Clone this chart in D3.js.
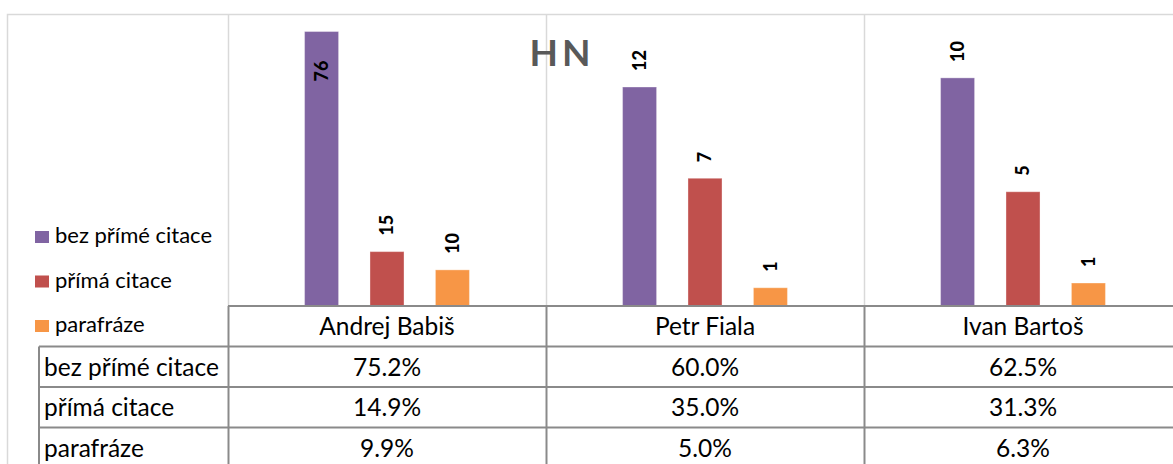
<!DOCTYPE html>
<html>
<head>
<meta charset="utf-8">
<script src="https://cdn.jsdelivr.net/npm/d3@7"></script>
<style>
  body { margin: 0; background: #fff; }
  svg { display: block; font-family: Lato, "Open Sans", sans-serif; }
</style>
</head>
<body>
<svg width="1173" height="464"></svg>
<script>
// data (shares in %, labels are counts)
const categories = ["Andrej Babiš", "Petr Fiala", "Ivan Bartoš"];
const series = ["bez přímé citace", "přímá citace", "parafráze"];
const bezPrimeCitace = [75.2, 60.0, 62.5];
const primaCitace = [14.9, 35.0, 31.3];
const parafraze = [9.9, 5.0, 6.3];
const countsBez = [76, 12, 10];
const countsPrima = [15, 7, 5];
const countsParafraze = [10, 1, 1];
const colors = ["#8064a2", "#c0504d", "#f79646"];

const shares = [bezPrimeCitace, primaCitace, parafraze];
const counts = [countsBez, countsPrima, countsParafraze];

var svg = d3.select("svg");
var W = 1173, H = 464;
var plotTop = 14, baseY = 306, plotLeft = 228, plotRight = 1182;
var rowH = 40.5, tableLeft = 39;
var lineGray = "#8a8a8a", gridGray = "#d9d9d9";

var x0 = d3.scaleBand().domain(categories).range([plotLeft, plotRight]);
var x1 = d3.scaleBand().domain(series).range([0, x0.bandwidth()])
    .paddingInner(0.48).paddingOuter(1.17);
var y = d3.scaleLinear().domain([0, 80]).range([baseY, plotTop]);

var bars = [];
series.forEach((s, si) => {
    categories.forEach((c, ci) => {
        bars.push({ s: s, si: si, c: c, v: shares[si][ci], n: counts[si][ci] });
    });
});

// chart area border (cut off on the right and bottom)
svg.append("path")
    .attr("d", `M7.5,${H} V${plotTop + 0.5} H${W}`)
    .attr("fill", "none")
    .attr("stroke", gridGray)
    .attr("stroke-width", 1.5);

// vertical grid lines in the plot area
var edges = categories.map(c => x0(c)).concat([plotRight]);
svg.selectAll("line.grid")
    .data(edges)
    .enter()
    .append("line")
    .attr("class", "grid")
    .attr("x1", d => d + 0.5).attr("x2", d => d + 0.5)
    .attr("y1", plotTop).attr("y2", baseY)
    .attr("stroke", gridGray)
    .attr("stroke-width", 1.5);

// title
svg.append("text")
    .attr("x", 562)
    .attr("y", 66)
    .attr("text-anchor", "middle")
    .attr("font-size", 37)
    .attr("font-weight", "bold")
    .attr("letter-spacing", 4)
    .attr("fill", "#595959")
    .text("HN");

// bars
svg.selectAll("rect.bar")
    .data(bars)
    .enter()
    .append("rect")
    .attr("class", "bar")
    .attr("x", d => x0(d.c) + x1(d.s))
    .attr("y", d => y(d.v))
    .attr("width", x1.bandwidth())
    .attr("height", d => baseY - y(d.v))
    .attr("fill", d => colors[d.si])
    .attr("stroke", "#fff")
    .attr("stroke-opacity", 0.35)
    .attr("stroke-width", 1);

// value labels, rotated
svg.selectAll("text.lbl")
    .data(bars)
    .enter()
    .append("text")
    .attr("class", "lbl")
    .attr("transform", function(d) {
        var cx = x0(d.c) + x1(d.s) + x1.bandwidth() / 2;
        var ly = y(d.v) - 16;
        if (ly - 22 < plotTop) ly = y(d.v) + 50;   // no room above: put it inside
        return `translate(${cx},${ly}) rotate(-90)`;
    })
    .attr("dy", "0.36em")
    .attr("font-size", 18)
    .attr("font-weight", 900)
    .attr("fill", "#000")
    .text(d => d.n);

// legend
var ly = d3.scalePoint().domain(series).range([237, 326]);
var leg = svg.selectAll("g.leg")
    .data(series)
    .enter()
    .append("g")
    .attr("class", "leg")
    .attr("transform", d => `translate(35,${ly(d)})`);
leg.append("rect")
    .attr("x", 0).attr("y", -6)
    .attr("width", 14).attr("height", 12)
    .attr("fill", (d, i) => colors[i]);
leg.append("text")
    .attr("x", 20).attr("y", 6)
    .attr("font-size", 22)
    .attr("fill", "#000")
    .text(d => d);

// data table
var rows = ["head"].concat(series);
var yr = d3.scaleBand().domain(rows).range([baseY, baseY + rows.length * rowH]);
var tcol = "#000", tsize = 24.5;

// horizontal lines
svg.append("line")
    .attr("x1", plotLeft).attr("x2", plotRight)
    .attr("y1", baseY).attr("y2", baseY)
    .attr("stroke", lineGray).attr("stroke-width", 2);
svg.selectAll("line.hrow")
    .data(series.concat(["end"]))
    .enter()
    .append("line")
    .attr("class", "hrow")
    .attr("x1", tableLeft).attr("x2", plotRight)
    .attr("y1", (d, i) => baseY + (i + 1) * rowH)
    .attr("y2", (d, i) => baseY + (i + 1) * rowH)
    .attr("stroke", lineGray).attr("stroke-width", 2);
// vertical lines
svg.selectAll("line.vcol")
    .data(edges)
    .enter()
    .append("line")
    .attr("class", "vcol")
    .attr("x1", d => d + 0.5).attr("x2", d => d + 0.5)
    .attr("y1", baseY).attr("y2", H + 10)
    .attr("stroke", lineGray).attr("stroke-width", 2);
svg.append("line")
    .attr("x1", tableLeft).attr("x2", tableLeft)
    .attr("y1", yr(series[0])).attr("y2", H + 10)
    .attr("stroke", lineGray).attr("stroke-width", 2);

// category header row
svg.selectAll("text.cat")
    .data(categories)
    .enter()
    .append("text")
    .attr("class", "cat")
    .attr("x", d => x0(d) + x0.bandwidth() / 2)
    .attr("y", yr("head") + rowH / 2 + 9)
    .attr("text-anchor", "middle")
    .attr("font-size", tsize)
    .attr("fill", tcol)
    .text(d => d);

// row headers
svg.selectAll("text.rowh")
    .data(series)
    .enter()
    .append("text")
    .attr("class", "rowh")
    .attr("x", tableLeft + 5)
    .attr("y", d => yr(d) + rowH / 2 + 9)
    .attr("font-size", tsize)
    .attr("fill", tcol)
    .text(d => d);

// cell values
svg.selectAll("text.cell")
    .data(bars)
    .enter()
    .append("text")
    .attr("class", "cell")
    .attr("x", d => x0(d.c) + x0.bandwidth() / 2)
    .attr("y", d => yr(d.s) + rowH / 2 + 9)
    .attr("text-anchor", "middle")
    .attr("font-size", tsize)
    .attr("fill", tcol)
    .text(d => d.v.toFixed(1) + "%");
</script>
</body>
</html>
